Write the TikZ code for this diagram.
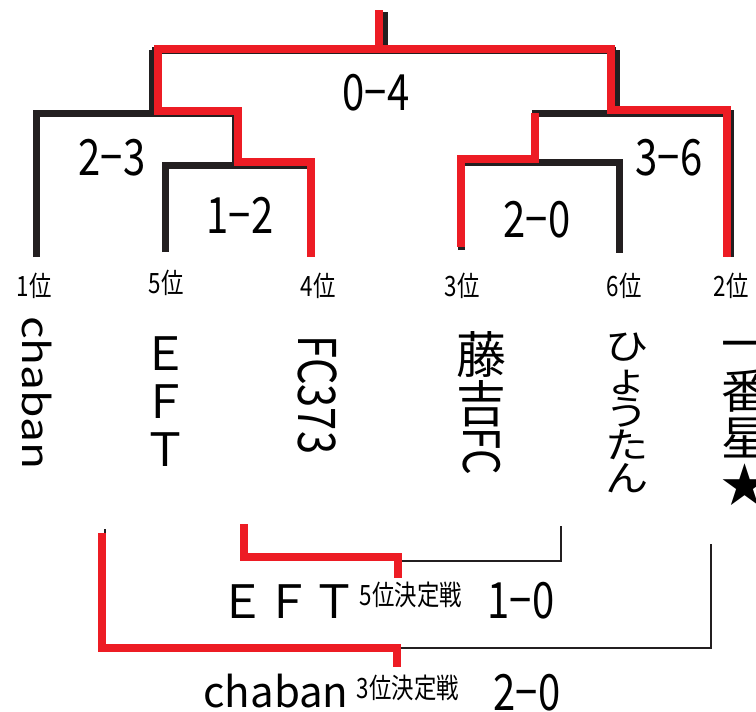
\documentclass[tikz,border=0pt]{standalone}
\usepackage{fontspec}
\setmainfont{Noto Sans CJK JP}
\newfontfamily\narrowjp[FakeStretch=0.8]{Noto Sans CJK JP}
\newfontfamily\widejp[FakeStretch=1.2]{Noto Sans CJK JP}
\definecolor{winred}{RGB}{237,28,36}
\definecolor{inkblack}{RGB}{35,31,32}

\tikzset{
		bracket/.style  = {draw=inkblack, line width=7pt},
		winner/.style   = {draw=winred, line width=8pt},
		thinline/.style = {draw=inkblack, line width=2pt},
		thinwin/.style  = {draw=winred, line width=7.5pt},
		score/.style    = {inner sep=0pt, anchor=base,
				font=\narrowjp\fontsize{50}{50}\selectfont},
		rank/.style     = {inner sep=0pt, anchor=base,
				font=\narrowjp\fontsize{28}{28}\selectfont},
		team/.style     = {inner sep=0pt, align=center},
		latin/.style    = {inner sep=0pt, rotate=-90}
	}

\begin{document}
\begin{tikzpicture}[x=1pt, y=-1pt]
		\useasboundingbox (0,0) rectangle (756,712);

		% leaf ends of the bracket
		\coordinate (c1) at (36,257);
		\coordinate (c5) at (165,252);
		\coordinate (c4) at (311,257);
		\coordinate (c3) at (461,250);
		\coordinate (c6) at (619,253);
		\coordinate (c2) at (730,257);
		% matches
		\coordinate (m12) at (235,165);
		\coordinate (m23) at (152,113);
		\coordinate (m20) at (535,162);
		\coordinate (m36) at (616,113);
		\coordinate (final) at (384,50);

		% black bracket
		\draw[bracket] (384,12) -- (final);
		\draw[bracket] (m23 |- final) -- (m36 |- final);
		\draw[bracket] (m23 |- final) -- (m23);
		\draw[bracket] (m36 |- final) -- (m36);
		\draw[bracket] (c1) |- (m12 |- m23) -- (m12);
		\draw[bracket] (c5) |- (c4 |- m12) -- (c4);
		\draw[bracket] (c2) |- (m20 |- m36) -- (m20);
		\draw[bracket] (c3) |- (c6 |- m20) -- (c6);

		% winners
		\draw[winner] (379,10) -- (379,49) -- (158,49) -- (158,111) -- (238,111)
			-- (238,162) -- (311,162) -- (c4);
		\draw[winner] (379,49) -- (611,49) -- (611,110) -- (727,110) -- (727,257);
		\draw[winner] (535,113) -- (535,159) -- (461,159) -- (461,247);

		% scores
		\node[score] (s04) at (376,110) {0−4};
		\node[score] (s23) at (112,175) {2−3};
		\node[score] (s12) at (240,233) {1−2};
		\node[score] (s20) at (537,237) {2−0};
		\node[score] (s36) at (669,175) {3−6};

		% ranks
		\node[rank] (r1) at (34,296) {1位};
		\node[rank] (r5) at (166,293) {5位};
		\node[rank] (r4) at (318,296) {4位};
		\node[rank] (r3) at (462,296) {3位};
		\node[rank] (r6) at (624,296) {6位};
		\node[rank] (r2) at (731,296) {2位};

		% teams
		\node[latin, font=\widejp\fontsize{37}{37}\selectfont] (n1) at (37,393) {chaban};
		\node[team, font=\fontsize{46}{48}\selectfont] (n5) at (165,402) {Ｅ\\Ｆ\\Ｔ};
		\node[latin, font=\narrowjp\fontsize{52}{52}\selectfont] (n4) at (318,395) {FC373};
		\node[team, font=\fontsize{50}{49}\selectfont] (n3) at (481,379) {藤\\吉};
		\node[latin, font=\narrowjp\fontsize{50}{50}\selectfont] (n3b) at (482,451) {FC};
		\node[team, font=\widejp\fontsize{36}{33}\selectfont] (n6) at (627,413) {ひ\\ょ\\う\\た\\ん};
		\node[team, font=\fontsize{47}{47}\selectfont] (n2) at (745,423) {一\\番\\星\\★};

		% placing matches
		\coordinate (p5a) at (561,526);
		\coordinate (p5b) at (400,561);
		\coordinate (p3a) at (711,544);
		\coordinate (p3b) at (400,648);
		\draw[thinline] (p5a) |- (p5b);
		\draw[thinline] (p3a) |- (p3b);
		\draw[thinline] (105,529) -- (105,560);
		\draw[thinwin] (244,524) |- (398,557) -- (398,578);
		\draw[thinwin] (102,533) |- (397,648) -- (397,667);

		\node[inner sep=0pt, anchor=base, font=\fontsize{46}{46}\selectfont] (w5) at (288,618) {ＥＦＴ};
		\node[rank] (t5) at (411,605) {5位決定戦};
		\node[score] (s10) at (521,618) {1−0};
		\node[inner sep=0pt, anchor=base, font=\fontsize{42}{42}\selectfont] (w3) at (276,707) {chaban};
		\node[rank] (t3) at (408,698) {3位決定戦};
		\node[score] (s20b) at (527,710) {2−0};
	\end{tikzpicture}
\end{document}
